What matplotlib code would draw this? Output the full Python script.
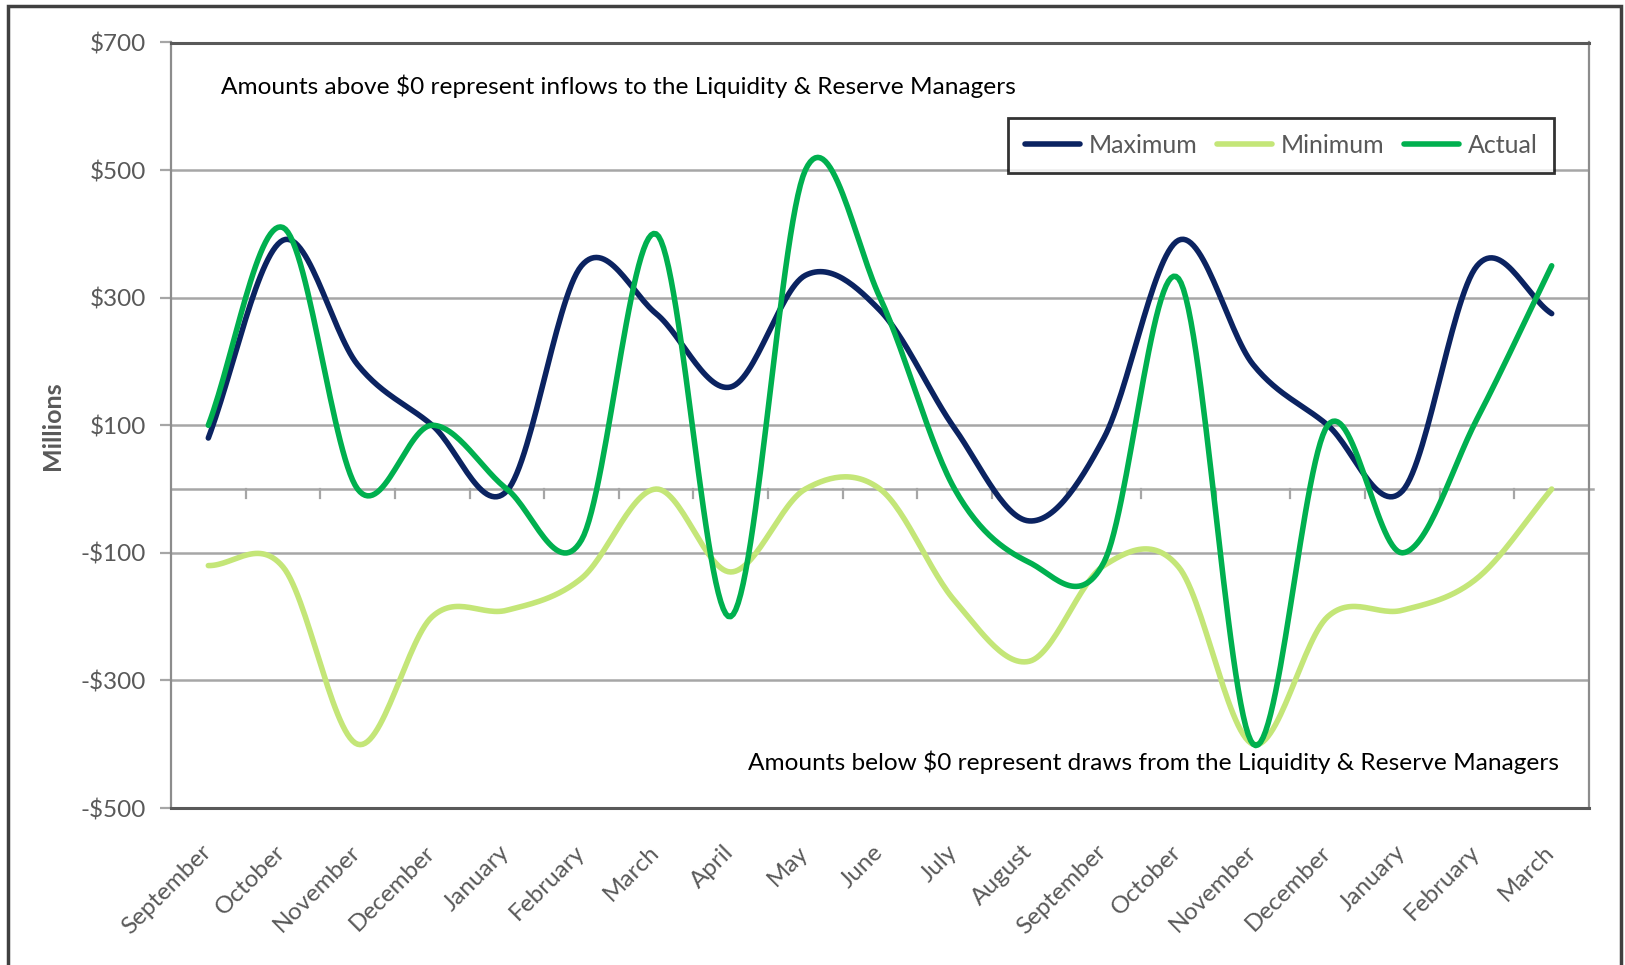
import numpy as np
import matplotlib
matplotlib.use("Agg")
import matplotlib.pyplot as plt
from matplotlib.patches import Rectangle
from matplotlib.transforms import ScaledTranslation

months = ["September", "October", "November", "December", "January", "February",
          "March", "April", "May", "June", "July", "August", "September", "October",
          "November", "December", "January", "February", "March"]
maximum = [80, 390, 195, 100, -3, 350, 275, 160, 335, 280, 95, -50,
           80, 390, 195, 100, -3, 350, 275]
minimum = [-120, -122, -400, -200, -190, -140, 0, -130, 0, 0, -175, -270,
           -120, -122, -400, -200, -190, -140, 0]
actual = [100, 410, 0, 100, 0, -80, 400, -200, 500, 300, 0, -115,
          -115, 330, -400, 100, -100, 110, 350]
yticks = [700, 500, 300, 100, -100, -300, -500]
ytick_labels = ["$700", "$500", "$300", "$100", "-$100", "-$300", "-$500"]

FONT = "Lato"
GRAY = "#595959"


def smooth(xs, ys, n=30):
    xs = np.asarray(xs, float)
    ys = np.asarray(ys, float)
    px = np.concatenate([[2 * xs[0] - xs[1]], xs, [2 * xs[-1] - xs[-2]]])
    py = np.concatenate([[ys[0]], ys, [ys[-1]]])
    py[0] = ys[0] - (ys[1] - ys[0])
    py[-1] = ys[-1] + (ys[-1] - ys[-2])
    out_x, out_y = [], []
    t = np.linspace(0, 1, n, endpoint=False)
    for i in range(1, len(px) - 2):
        p0, p1, p2, p3 = py[i - 1], py[i], py[i + 1], py[i + 2]
        x1, x2 = px[i], px[i + 1]
        m1 = (p2 - p0) / 2
        m2 = (p3 - p1) / 2
        h00 = 2 * t**3 - 3 * t**2 + 1
        h10 = t**3 - 2 * t**2 + t
        h01 = -2 * t**3 + 3 * t**2
        h11 = t**3 - t**2
        out_y.append(h00 * p1 + h10 * m1 + h01 * p2 + h11 * m2)
        out_x.append(x1 + t * (x2 - x1))
    out_x.append([xs[-1]])
    out_y.append([ys[-1]])
    return np.concatenate(out_x), np.concatenate(out_y)


W, H = 1625, 965
fig = plt.figure(figsize=(W / 100, H / 100), dpi=100)
ax = fig.add_axes([171 / W, 1 - 808 / H, (1589 - 171) / W, (808 - 42.5) / H])

x = np.arange(len(months)) + 0.5
series = [("Maximum", maximum, "#0B2361"),
          ("Minimum", minimum, "#C4E678"),
          ("Actual", actual, "#00B04F")]
order_z = {"Minimum": 3, "Maximum": 4, "Actual": 5}
for name, vals, col in series:
    sx, sy = smooth(x, vals)
    ax.plot(sx, sy, color=col, lw=4.0, solid_capstyle="round",
            solid_joinstyle="round", label=name, zorder=order_z[name])

ax.set_xlim(0, len(months))
ax.set_ylim(-500, 700)

for v in [500, 300, 100, -100, -300]:
    ax.axhline(v, color="#A6A6A6", lw=1.8, zorder=1)
ax.plot([0, 1.003], [0.4167, 0.4167], transform=ax.transAxes, color="#A6A6A6",
        lw=1.8, zorder=1, clip_on=False)
for k in range(1, len(months)):
    ax.plot([k, k], [0, -14], color="#A6A6A6", lw=1.6, zorder=1)

ax.set_yticks(yticks)
ax.set_yticklabels(ytick_labels, fontfamily=FONT, fontsize=17.5, color=GRAY)
ax.tick_params(axis="y", length=8, width=1.6, color="#A6A6A6", pad=10)
ax.set_xticks(x)
ax.set_xticklabels(months, rotation=45, ha="right", rotation_mode="anchor",
                   fontfamily=FONT, fontsize=17.5, color=GRAY)
ax.tick_params(axis="x", length=0, pad=24)
shift = ScaledTranslation(-8 / 100, 0, fig.dpi_scale_trans)
for lab in ax.get_xticklabels():
    lab.set_transform(lab.get_transform() + shift)

for s in ["left", "right"]:
    ax.spines[s].set_color("#8C8C8C")
    ax.spines[s].set_linewidth(1.6)
ax.spines["top"].set_color("#595959")
ax.spines["top"].set_linewidth(2.2)
ax.spines["bottom"].set_color("#595959")
ax.spines["bottom"].set_linewidth(2.2)

ax.set_ylabel("Millions", fontfamily=FONT, fontsize=18, fontweight="bold",
              color=GRAY, labelpad=12)

ax.text(0.67, 632, "Amounts above $0 represent inflows to the Liquidity & Reserve Managers",
        fontfamily=FONT, fontsize=17.6, color="black", va="center", ha="left", zorder=6)
ax.text(18.6, -429, "Amounts below $0 represent draws from the Liquidity & Reserve Managers",
        fontfamily=FONT, fontsize=17.6, color="black", va="center", ha="right", zorder=6)

leg = ax.legend(loc="upper right", bbox_to_anchor=(0.9755, 0.9015), ncol=3,
                frameon=True, fancybox=False, edgecolor="black",
                prop={"family": FONT, "size": 18}, handlelength=2.2,
                handletextpad=0.35, columnspacing=0.8, borderpad=0.65,
                borderaxespad=0)
leg.get_frame().set_linewidth(2.0)
for t in leg.get_texts():
    t.set_color(GRAY)
leg.set_zorder(10)

fig.patches.append(Rectangle((8 / W, -0.05), (1621 - 8) / W, 1.05 - 6 / H,
                             transform=fig.transFigure, fill=False,
                             edgecolor="#404040", lw=2.5))

fig.savefig("out.png", dpi=100)
